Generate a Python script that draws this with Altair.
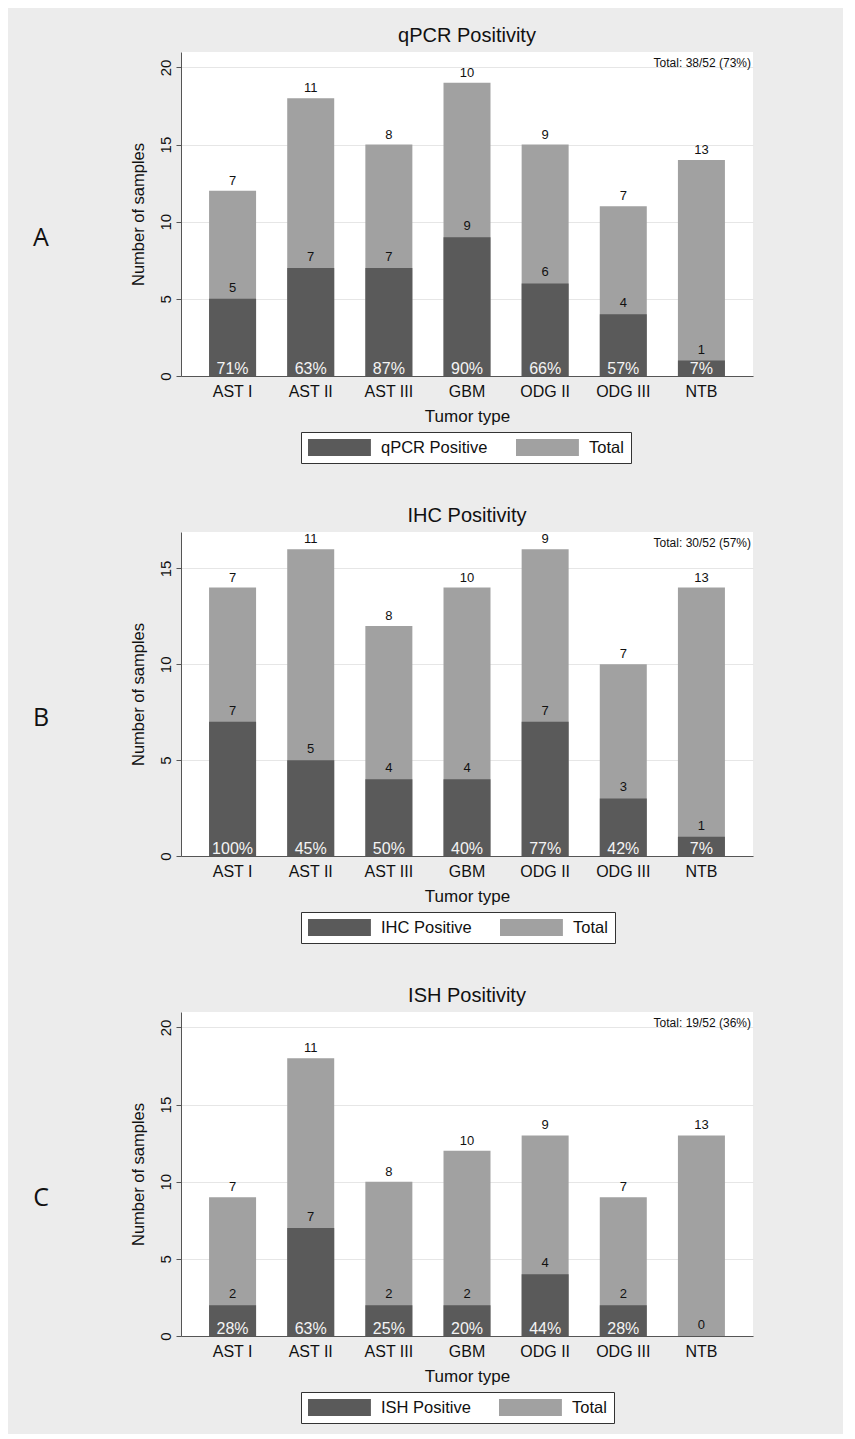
import altair as alt
import pandas as pd

categories = ["AST I", "AST II", "AST III", "GBM", "ODG II", "ODG III", "NTB"]
group_n = [7, 11, 8, 10, 9, 7, 13]

qpcr_total = [12, 18, 15, 19, 15, 11, 14]
qpcr_pos = [5, 7, 7, 9, 6, 4, 1]
qpcr_pct = ["71%", "63%", "87%", "90%", "66%", "57%", "7%"]

ihc_total = [14, 16, 12, 14, 16, 10, 14]
ihc_pos = [7, 5, 4, 4, 7, 3, 1]
ihc_pct = ["100%", "45%", "50%", "40%", "77%", "42%", "7%"]

ish_total = [9, 18, 10, 12, 13, 9, 13]
ish_pos = [2, 7, 2, 2, 4, 2, 0]
ish_pct = ["28%", "63%", "25%", "20%", "44%", "28%", ""]

DARK = "#5a5a5a"
LIGHT = "#a1a1a1"
FONT = "Liberation Sans"
W, H = 572, 324


def panel(letter, title, pos_name, total_text, totals, pos, pct, ymax, ticks):
    df = pd.DataFrame({
        "cat": categories, "total": totals, "pos": pos, "n": group_n, "pct": pct,
        "s_total": ["Total"] * len(categories), "s_pos": [pos_name] * len(categories),
    })
    base = alt.Chart(df)
    x = alt.X("cat:N", sort=categories, title="Tumor type",
              scale=alt.Scale(paddingInner=0.4, paddingOuter=0.36),
              axis=alt.Axis(labelAngle=0, ticks=False, labelFontSize=16, titleFontSize=17,
                            labelPadding=7, titlePadding=9, labelColor="#111", titleColor="#111",
                            domainColor="#555", labelFont=FONT, titleFont=FONT,
                            titleFontWeight="normal"))
    yscale = alt.Scale(domain=[0, ymax], nice=False, zero=True)
    yaxis = alt.Axis(values=ticks, labelAngle=270, labelFontSize=15, titleFontSize=16.5,
                     labelPadding=11, titlePadding=12, tickSize=5, tickColor="#555",
                     domainColor="#555", gridColor="#e6e6e6", labelColor="#111",
                     titleColor="#111", labelFont=FONT, titleFont=FONT,
                     titleFontWeight="normal", labelBaseline="middle", labelAlign="center")
    cscale = alt.Scale(domain=[pos_name, "Total"], range=[DARK, LIGHT])
    legend = alt.Legend(title=None, orient="none", legendX=120, legendY=380,
                        direction="horizontal",
                        symbolType="M-1,-1H6.4V1H-1Z", symbolSize=289,
                        symbolStrokeWidth=0, symbolOpacity=1,
                        labelFontSize=16.5, labelFont=FONT, labelColor="#111",
                        labelOffset=56, columnPadding=28, padding=7,
                        strokeColor="#333", fillColor="white")
    bars_total = base.mark_bar(size=47).encode(
        x=x,
        y=alt.Y("total:Q", scale=yscale, axis=yaxis, title="Number of samples"),
        color=alt.Color("s_total:N", scale=cscale, legend=legend),
    )
    bars_pos = base.mark_bar(size=47).encode(
        x=x, y=alt.Y("pos:Q"),
        color=alt.Color("s_pos:N", scale=cscale, legend=legend),
    )
    top_text = base.mark_text(baseline="bottom", dy=-3, fontSize=13, font=FONT, color="#111").encode(
        x=x, y="total:Q", text="n:Q")
    pos_text = base.mark_text(baseline="bottom", dy=-4, fontSize=13, font=FONT, color="#111").encode(
        x=x, y="pos:Q", text="pos:Q")
    pct_text = base.mark_text(baseline="bottom", dy=1, fontSize=16, font=FONT, color="#f4f4f4").encode(
        x=x, y=alt.datum(0), text="pct:N")
    tot = alt.Chart(pd.DataFrame({"t": [total_text]})).mark_text(
        align="right", baseline="middle", fontSize=12, font=FONT, color="#111").encode(
        x=alt.value(W - 2), y=alt.value(11), text="t:N")
    let = alt.Chart(pd.DataFrame({"l": [letter]})).mark_text(
        align="center", baseline="middle", fontSize=25, font="Open Sans", color="#111").encode(
        x=alt.value(-140), y=alt.value(186), text="l:N")
    return alt.layer(bars_total, bars_pos, top_text, pos_text, pct_text, tot, let).properties(
        width=W, height=H,
        title=alt.TitleParams(title, fontSize=20, font=FONT, fontWeight="normal",
                              anchor="middle", offset=6, color="#111"),
    )


pA = panel("A", "qPCR Positivity", "qPCR Positive", "Total: 38/52 (73%)",
           qpcr_total, qpcr_pos, qpcr_pct, 21, [0, 5, 10, 15, 20])
pB = panel("B", "IHC Positivity", "IHC Positive", "Total: 30/52 (57%)",
           ihc_total, ihc_pos, ihc_pct, 16.9, [0, 5, 10, 15])
pC = panel("C", "ISH Positivity", "ISH Positive", "Total: 19/52 (36%)",
           ish_total, ish_pos, ish_pct, 21, [0, 5, 10, 15, 20])

chart = alt.vconcat(pA, pB, pC, spacing=42).resolve_scale(
    color="independent", y="independent", x="independent"
).properties(
    background="#ececec",
    padding={"left": 24, "top": 18, "right": 90, "bottom": 10},
).configure_view(fill="white", stroke=None)

chart.save("out.html", embed_options={"renderer": "svg", "actions": False})
